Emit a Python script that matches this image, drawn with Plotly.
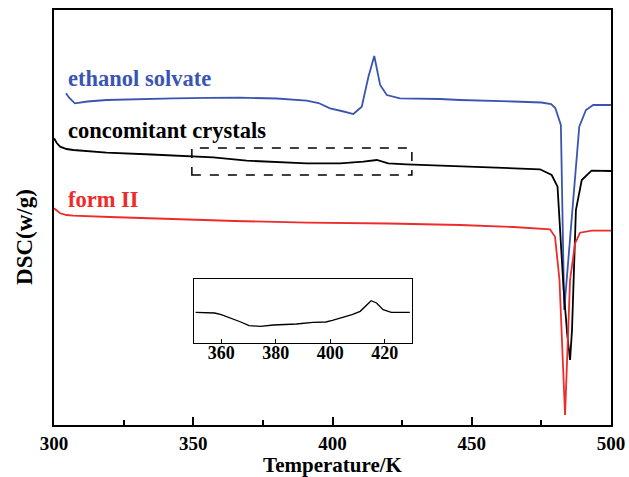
import plotly.graph_objects as go

# ---- data (temperature in K, DSC signal in arbitrary units, up = exo) ----
T_eth = [304.3, 305.5, 307.5, 312, 318.9, 330, 342.9, 355, 366.8, 380, 390.7, 395, 399.1, 404, 407.5,
         410.5, 412.9, 415.0, 417.1, 419.5, 424.2, 438.6, 445.8, 465, 475, 478.5, 480, 482.0, 483.2,
         488.6, 491, 493.6, 500]
Y_eth = [331.7, 327, 321.7, 323.5, 325, 326, 326.7, 327.1, 327.3, 326.5, 324.3, 322, 316.7, 313.5, 311,
         318.3, 348.3, 369, 340, 330, 326.7, 326, 325, 323.5, 322.5, 321, 317, 300, 115,
         298.3, 315, 320, 320]

T_con = [300, 301, 302.2, 304.5, 306.9, 318.9, 335, 348.8, 357.2, 369.2, 380, 390.7, 402.7, 411.1,
         415.9, 420, 426.6, 438.6, 445.8, 460, 474.5, 478.7, 480.8, 483, 484.3, 485.3, 486, 487.4,
         489.5, 493, 500]
Y_con = [286.7, 282, 278.3, 276, 275, 272.3, 270.5, 269, 267.7, 264.3, 263, 261.7, 261.7, 263.3,
         265, 261.7, 260.7, 259.3, 259, 257.5, 255.7, 250, 238.3, 135, 90, 65, 95, 215,
         245, 254.3, 254]

T_f2 = [300, 301, 302.2, 304.5, 306.9, 320, 342.8, 365, 390.7, 420, 445.8, 465, 478.1, 479.9, 481.5,
        483.5, 485.3, 487.1, 488.9, 493, 500]
Y_f2 = [216.7, 214, 211.7, 210, 209.3, 208, 205.7, 204, 202.3, 201.5, 200, 198, 195.7, 188.3, 145,
        10, 145, 181.7, 192.3, 194.3, 194.3]

# inset: concomitant crystals, 350-430 K
T_ins = [350.6, 357.6, 360, 363.6, 367.2, 370.2, 374.4, 379.2, 387.6, 393.6, 398.4, 400.8, 404.4,
         408, 411, 413.4, 415, 417, 419.4, 422.4, 429.2]
Y_ins = [92, 90, 85, 75, 63, 52, 50, 54, 57, 62, 63, 68, 77, 85, 95, 115, 127, 120, 100, 92, 92]

labels = ["ethanol solvate", "concomitant crystals", "form II"]
colors = ["#3a55b1", "#000000", "#ee2b2b"]
x_ticks = [300, 350, 400, 450, 500]
inset_ticks = [360, 380, 400, 420]

serif = "Liberation Serif, Times New Roman, serif"

fig = go.Figure()
for T, Y, c, n in [(T_eth, Y_eth, colors[0], labels[0]), (T_con, Y_con, colors[1], labels[1]),
                   (T_f2, Y_f2, colors[2], labels[2])]:
    fig.add_trace(go.Scatter(x=T, y=Y, mode="lines", line=dict(color=c, width=1.8), name=n,
                             showlegend=False, hoverinfo="skip"))

fig.add_trace(go.Scatter(x=T_ins, y=Y_ins, mode="lines", line=dict(color="black", width=1.3),
                         xaxis="x2", yaxis="y2", showlegend=False, hoverinfo="skip"))

# series labels
label_pos = [(304.2, 347), (304.2, 295), (304.2, 226)]
for (lx, ly), t, c in zip(label_pos, labels, colors):
    fig.add_annotation(x=lx, y=ly, text="<b>" + t + "</b>", showarrow=False, xanchor="left",
                       yanchor="middle", font=dict(family=serif, size=22.5, color=c, weight="bold"),
                       xref="x", yref="y")

# y-axis title
fig.add_annotation(x=-0.054, y=0.453, xref="paper", yref="paper", text="<b>DSC(w/g)</b>",
                   textangle=-90, showarrow=False, xanchor="center", yanchor="middle",
                   font=dict(family=serif, size=23, color="black", weight="bold"))

# dashed zoom box
fig.add_shape(type="rect", x0=349.5, x1=428.5, y0=250, y1=277, xref="x", yref="y",
              line=dict(color="black", width=1.5, dash="dash"))

fig.update_layout(
    width=629, height=477,
    margin=dict(l=54, r=18, t=10, b=52),
    plot_bgcolor="white", paper_bgcolor="white",
    font=dict(family=serif, color="black"),
    xaxis=dict(range=[300, 500], tickvals=x_ticks, ticks="inside", ticklen=8, tickwidth=1.5,
               tickcolor="black", showline=True, linecolor="black", linewidth=1.8, mirror=True,
               showgrid=False, zeroline=False, automargin=False,
               tickfont=dict(family=serif, size=19, color="black", weight="bold"),
               minor=dict(dtick=25, ticks="inside", ticklen=5, tickwidth=1.5, tickcolor="black"),
               title=dict(text="<b>Temperature/K</b>", font=dict(family=serif, size=21), standoff=2)),
    yaxis=dict(range=[0, 415], showticklabels=False, ticks="", showline=True, linecolor="black",
               linewidth=1.8, mirror=True, showgrid=False, zeroline=False, automargin=False),
    xaxis2=dict(domain=[0.2513, 0.6427], anchor="y2", range=[350, 430], tickvals=inset_ticks,
                ticks="inside", ticklen=4, tickwidth=1, tickcolor="black", ticklabelstandoff=-7,
                showline=True, linecolor="black", linewidth=1.2, mirror=True,
                showgrid=False, zeroline=False, automargin=False,
                tickfont=dict(family=serif, size=18, color="black", weight="bold")),
    yaxis2=dict(domain=[0.1976, 0.3518], anchor="x2", range=[0, 192], showticklabels=False,
                ticks="", showline=True, linecolor="black", linewidth=1.2, mirror=True,
                showgrid=False, zeroline=False, automargin=False),
)

fig.write_html("out.html", config={"displayModeBar": False},
               post_script="document.body.style.margin='0';document.body.style.padding='0';")
